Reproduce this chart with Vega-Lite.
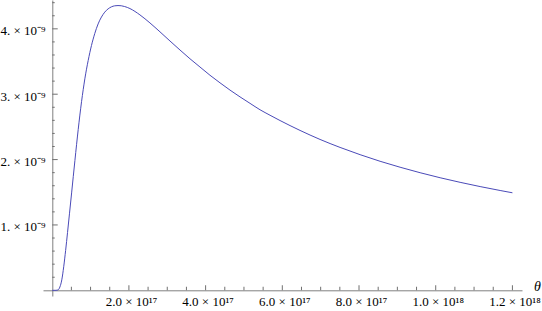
{
  "$schema": "https://vega.github.io/schema/vega-lite/v6.json",
  "width": 479,
  "height": 296,
  "autosize": {"type": "none"},
  "padding": {"left": 43, "top": 0, "right": 20, "bottom": 15},
  "background": "white",
  "config": {
    "view": {"stroke": null},
    "axis": {"grid": false, "domainColor": "#808080", "labelColor": "black"}
  },
  "datasets": {
    "curve": [
      {"theta": 0, "value": 0},
      {"theta": 1.0e16, "value": 0},
      {"theta": 1.5e16, "value": 0.005e-9},
      {"theta": 2.0e16, "value": 0.05e-9},
      {"theta": 2.5e16, "value": 0.16e-9},
      {"theta": 3.0e16, "value": 0.36e-9},
      {"theta": 3.5e16, "value": 0.61e-9},
      {"theta": 4.0e16, "value": 0.885e-9},
      {"theta": 4.5e16, "value": 1.17e-9},
      {"theta": 5.06e16, "value": 1.49e-9},
      {"theta": 5.92e16, "value": 1.985e-9},
      {"theta": 6.78e16, "value": 2.46e-9},
      {"theta": 7.65e16, "value": 2.885e-9},
      {"theta": 8.51e16, "value": 3.235e-9},
      {"theta": 9.38e16, "value": 3.515e-9},
      {"theta": 1.024e17, "value": 3.745e-9},
      {"theta": 1.111e17, "value": 3.93e-9},
      {"theta": 1.197e17, "value": 4.075e-9},
      {"theta": 1.284e17, "value": 4.18e-9},
      {"theta": 1.37e17, "value": 4.255e-9},
      {"theta": 1.457e17, "value": 4.305e-9},
      {"theta": 1.543e17, "value": 4.336e-9},
      {"theta": 1.63e17, "value": 4.352e-9},
      {"theta": 1.716e17, "value": 4.356e-9},
      {"theta": 1.8e17, "value": 4.353e-9},
      {"theta": 1.89e17, "value": 4.341e-9},
      {"theta": 2.027e17, "value": 4.31e-9},
      {"theta": 2.288e17, "value": 4.213e-9},
      {"theta": 2.549e17, "value": 4.09e-9},
      {"theta": 2.81e17, "value": 3.954e-9},
      {"theta": 3.071e17, "value": 3.814e-9},
      {"theta": 3.332e17, "value": 3.676e-9},
      {"theta": 3.593e17, "value": 3.542e-9},
      {"theta": 3.853e17, "value": 3.416e-9},
      {"theta": 4.114e17, "value": 3.29e-9},
      {"theta": 4.375e17, "value": 3.174e-9},
      {"theta": 4.636e17, "value": 3.063e-9},
      {"theta": 4.897e17, "value": 2.959e-9},
      {"theta": 5.158e17, "value": 2.86e-9},
      {"theta": 5.419e17, "value": 2.762e-9},
      {"theta": 5.68e17, "value": 2.678e-9},
      {"theta": 5.941e17, "value": 2.597e-9},
      {"theta": 6.462e17, "value": 2.446e-9},
      {"theta": 6.984e17, "value": 2.308e-9},
      {"theta": 7.506e17, "value": 2.186e-9},
      {"theta": 8.028e17, "value": 2.075e-9},
      {"theta": 8.549e17, "value": 1.974e-9},
      {"theta": 9.071e17, "value": 1.883e-9},
      {"theta": 9.593e17, "value": 1.799e-9},
      {"theta": 1.0115e18, "value": 1.722e-9},
      {"theta": 1.0636e18, "value": 1.652e-9},
      {"theta": 1.1158e18, "value": 1.587e-9},
      {"theta": 1.168e18, "value": 1.527e-9},
      {"theta": 1.2e18, "value": 1.492e-9}
    ],
    "xMajor": [{"t": 2e17}, {"t": 4e17}, {"t": 6e17}, {"t": 8e17}, {"t": 1e18}, {"t": 1.2e18}],
    "xMinor": [{"t": 5e16}, {"t": 1e17}, {"t": 1.5e17}, {"t": 2.5e17}, {"t": 3e17}, {"t": 3.5e17}, {"t": 4.5e17}, {"t": 5e17}, {"t": 5.5e17}, {"t": 6.5e17}, {"t": 7e17}, {"t": 7.5e17}, {"t": 8.5e17}, {"t": 9e17}, {"t": 9.5e17}, {"t": 1.05e18}, {"t": 1.1e18}, {"t": 1.15e18}],
    "yMajor": [{"v": 1e-9}, {"v": 2e-9}, {"v": 3e-9}, {"v": 4e-9}],
    "yMinor": [{"v": 2e-10}, {"v": 4e-10}, {"v": 6e-10}, {"v": 8e-10}, {"v": 1.2e-9}, {"v": 1.4e-9}, {"v": 1.6e-9}, {"v": 1.8e-9}, {"v": 2.2e-9}, {"v": 2.4e-9}, {"v": 2.6e-9}, {"v": 2.8e-9}, {"v": 3.2e-9}, {"v": 3.4e-9}, {"v": 3.6e-9}, {"v": 3.8e-9}, {"v": 4.2e-9}, {"v": 4.4e-9}]
  },
  "layer": [
    {
      "data": {"name": "curve"},
      "mark": {"type": "line", "color": "#4a4ab8", "strokeWidth": 1, "interpolate": "monotone"},
      "encoding": {
        "x": {
          "field": "theta",
          "type": "quantitative",
          "scale": {"domain": [-2.4e16, 1.225e18], "nice": false, "zero": false},
          "axis": {
            "orient": "bottom",
            "offset": -5.7,
            "values": [2e17, 4e17, 6e17, 8e17, 1e18, 1.2e18],
            "ticks": false,
            "tickSize": 0,
            "labelPadding": 15.3,
            "labelBaseline": "alphabetic",
            "labelAlign": "center",
            "labelOffset": 2,
            "labelFlush": false,
            "labelOverlap": false,
            "labelFont": "Liberation Serif",
            "labelFontSize": 13,
            "labelExpr": "datum.value >= 9e17 ? format(datum.value / 1e18, '.1f') + ' × 10¹⁸' : format(datum.value / 1e17, '.1f') + ' × 10¹⁷'",
            "title": "θ",
            "titleFont": "Liberation Serif",
            "titleFontStyle": "italic",
            "titleFontWeight": "normal",
            "titleFontSize": 14,
            "titleColor": "black",
            "titleX": 494,
            "titleY": -4,
            "titleAlign": "center",
            "titleBaseline": "middle",
            "titleAngle": 0
          }
        },
        "y": {
          "field": "value",
          "type": "quantitative",
          "scale": {"domain": [-8.7e-11, 4.441e-9], "nice": false, "zero": false},
          "axis": {
            "orient": "left",
            "offset": -9.3,
            "values": [1e-9, 2e-9, 3e-9, 4e-9],
            "ticks": false,
            "tickSize": 0,
            "labelPadding": 7.3,
            "labelBaseline": "middle",
            "labelAlign": "right",
            "labelOffset": 2,
            "labelFlush": false,
            "labelOverlap": false,
            "labelFont": "Liberation Serif",
            "labelFontSize": 13,
            "labelExpr": "format(datum.value / 1e-9, '.0f') + '. × 10⁻⁹'",
            "title": null
          }
        }
      }
    },
    {
      "data": {"name": "xMajor"},
      "mark": {"type": "tick", "orient": "vertical", "size": 5, "thickness": 1, "color": "#707070", "opacity": 1, "yOffset": -2.5},
      "encoding": {
        "x": {"field": "t", "type": "quantitative", "scale": {"domain": [-2.4e16, 1.225e18], "nice": false, "zero": false}, "axis": null},
        "y": {"datum": 0, "type": "quantitative", "scale": {"domain": [-8.7e-11, 4.441e-9], "nice": false, "zero": false}, "axis": null}
      }
    },
    {
      "data": {"name": "xMinor"},
      "mark": {"type": "tick", "orient": "vertical", "size": 3.5, "thickness": 1, "color": "#707070", "opacity": 1, "yOffset": -1.75},
      "encoding": {
        "x": {"field": "t", "type": "quantitative", "scale": {"domain": [-2.4e16, 1.225e18], "nice": false, "zero": false}, "axis": null},
        "y": {"datum": 0, "type": "quantitative", "scale": {"domain": [-8.7e-11, 4.441e-9], "nice": false, "zero": false}, "axis": null}
      }
    },
    {
      "data": {"name": "yMajor"},
      "mark": {"type": "tick", "orient": "horizontal", "size": 5.5, "thickness": 1, "color": "#707070", "opacity": 1, "xOffset": 2.75},
      "encoding": {
        "y": {"field": "v", "type": "quantitative", "scale": {"domain": [-8.7e-11, 4.441e-9], "nice": false, "zero": false}, "axis": null},
        "x": {"datum": 0, "type": "quantitative", "scale": {"domain": [-2.4e16, 1.225e18], "nice": false, "zero": false}, "axis": null}
      }
    },
    {
      "data": {"name": "yMinor"},
      "mark": {"type": "tick", "orient": "horizontal", "size": 2.5, "thickness": 1, "color": "#707070", "opacity": 1, "xOffset": 1.25},
      "encoding": {
        "y": {"field": "v", "type": "quantitative", "scale": {"domain": [-8.7e-11, 4.441e-9], "nice": false, "zero": false}, "axis": null},
        "x": {"datum": 0, "type": "quantitative", "scale": {"domain": [-2.4e16, 1.225e18], "nice": false, "zero": false}, "axis": null}
      }
    }
  ],
  "resolve": {"axis": {"x": "independent", "y": "independent"}}
}
